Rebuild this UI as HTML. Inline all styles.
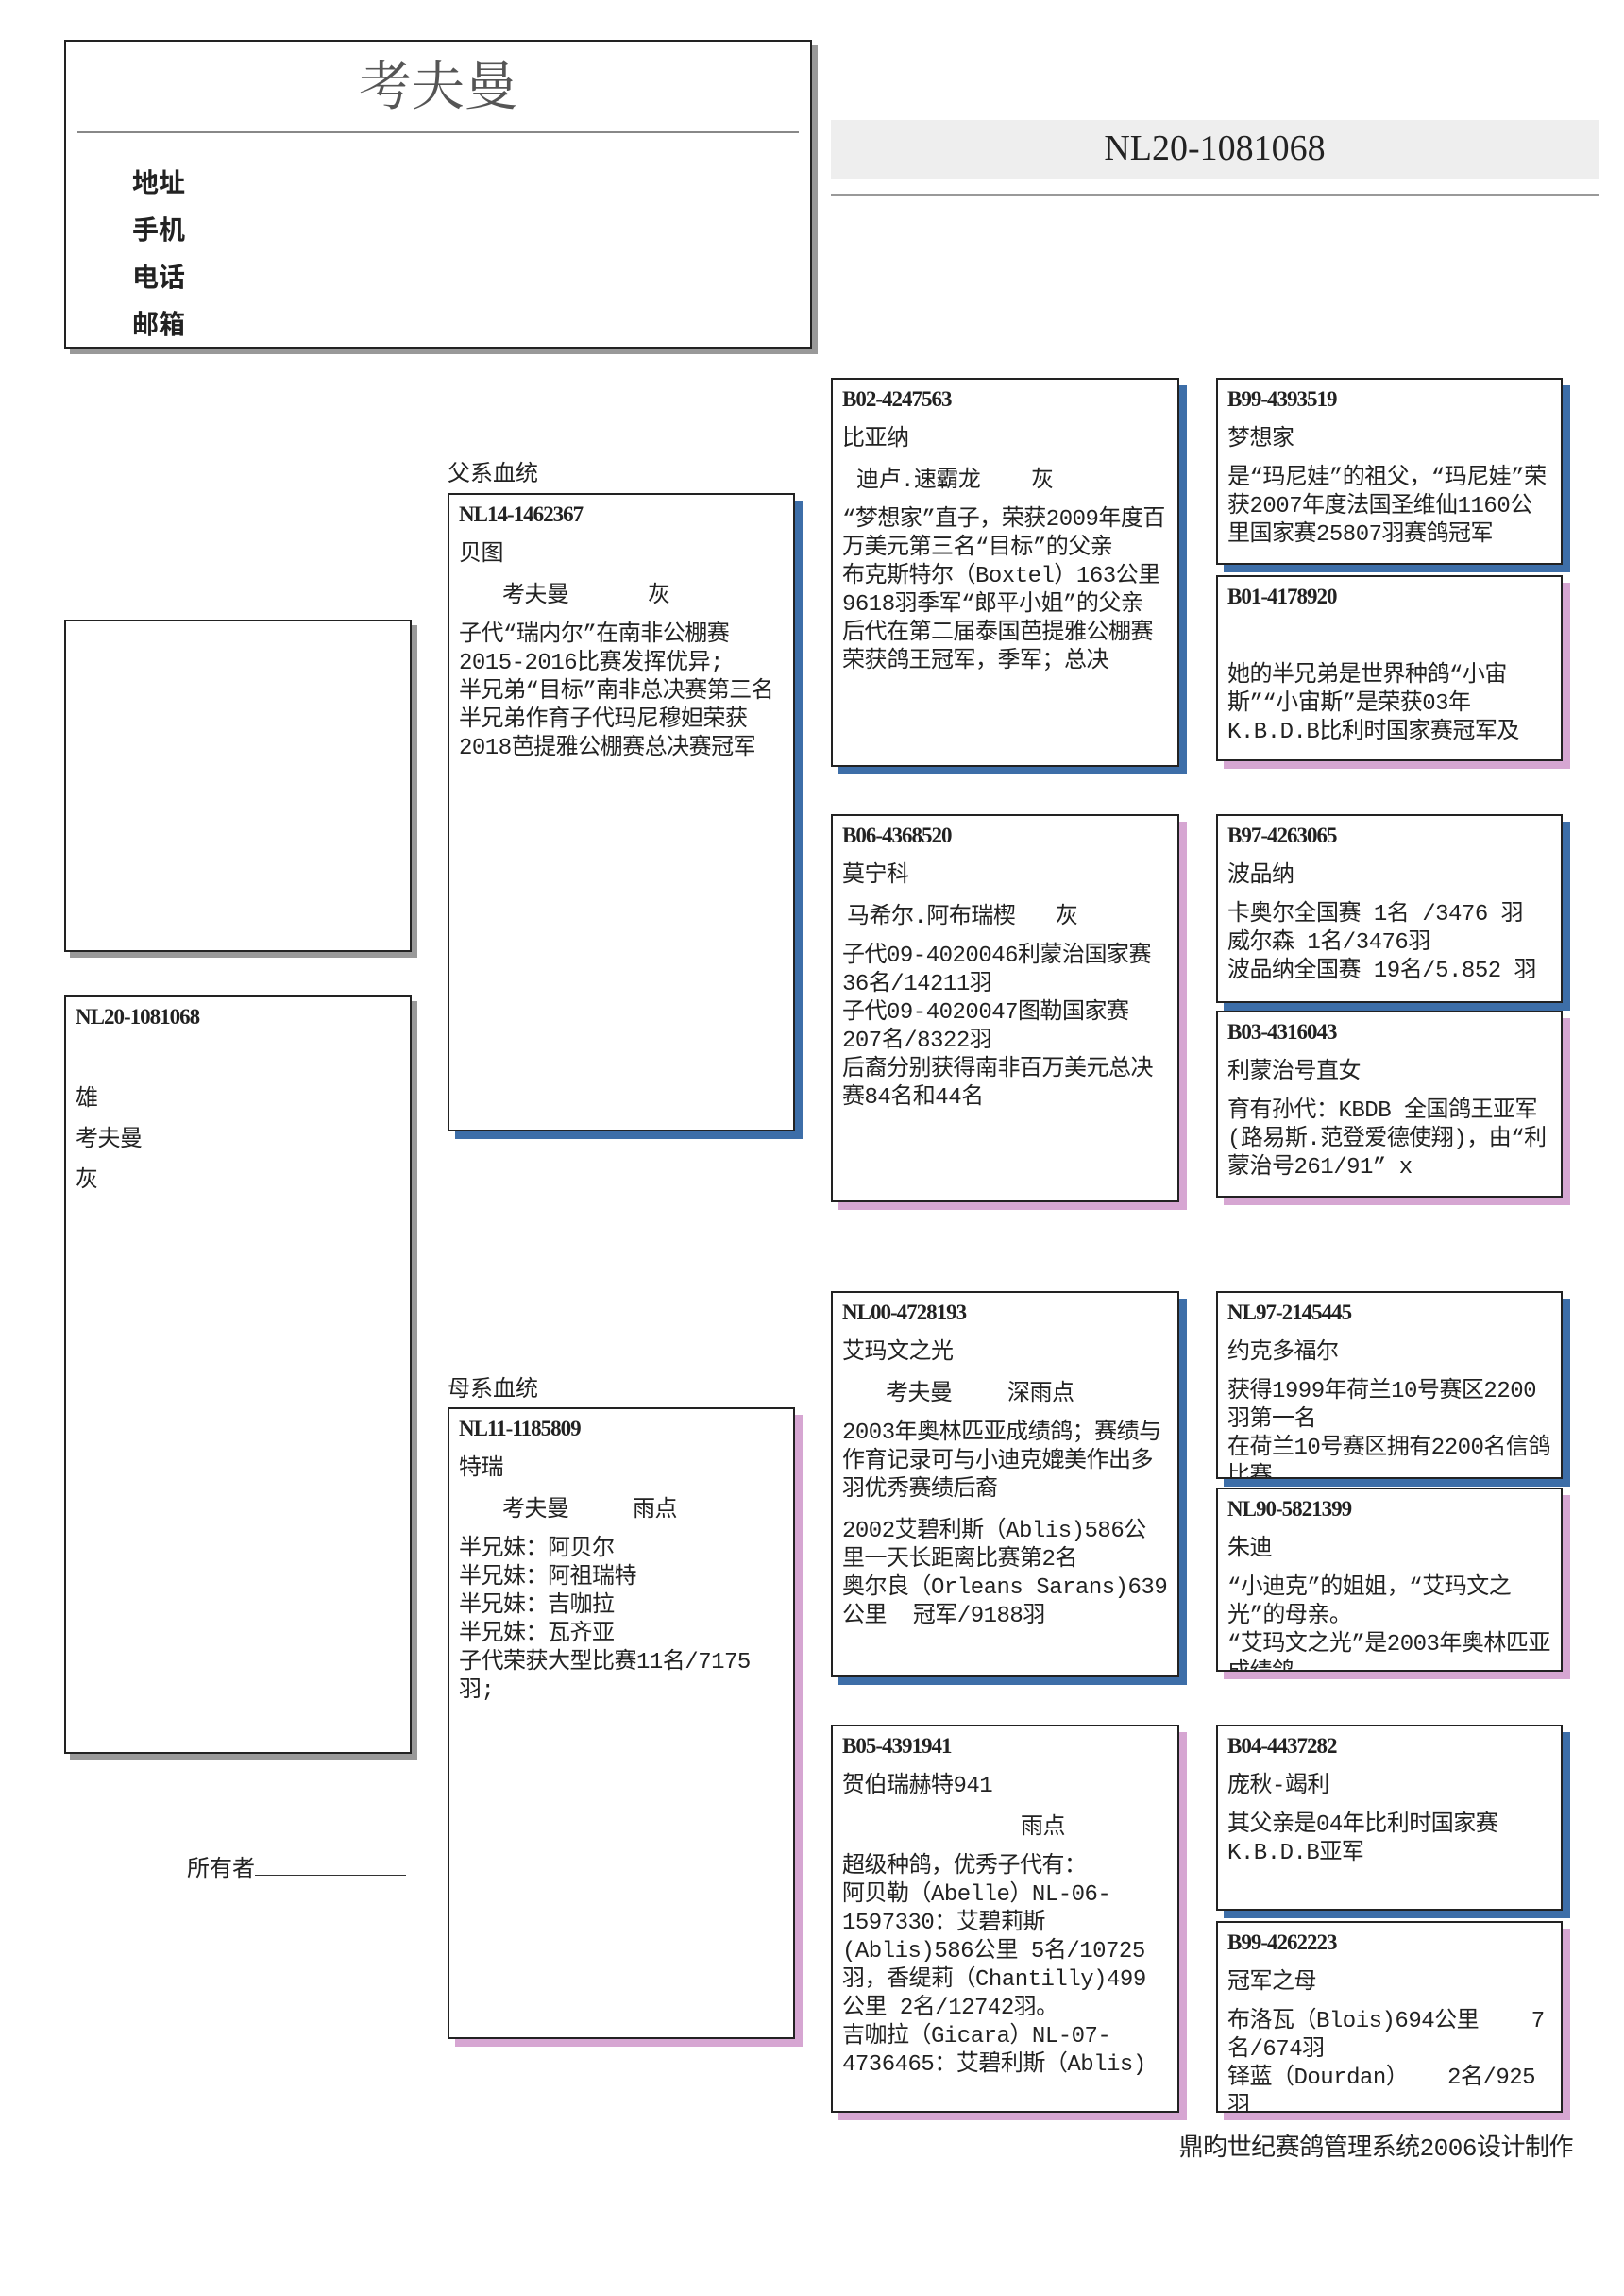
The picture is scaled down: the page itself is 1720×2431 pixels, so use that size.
<!DOCTYPE html>
<html><head><meta charset="utf-8"><style>
body{margin:0;width:1720px;height:2431px;background:#fff;position:relative;overflow:hidden;font-family:"Liberation Mono","Noto Sans CJK SC",monospace;color:#222}
.a{position:absolute}
.b{position:absolute;border:2px solid #222;background:#fff;box-sizing:border-box;padding:6px 10px;overflow:hidden;font-size:24px;line-height:30px;letter-spacing:-0.5px}
.bl{box-shadow:8px 8px 0 #3d6ea8}
.pk{box-shadow:8px 8px 0 #d6a6d2}
.gr{box-shadow:6px 6px 0 #999}
.id{font-family:"Liberation Serif","Noto Serif CJK SC",serif;font-weight:bold;font-size:23px;height:40px;line-height:30px;letter-spacing:-1px}
.nm{height:44px;line-height:36px}
.s2{height:44px;line-height:36px;position:relative}
.s2 span{position:absolute;top:0;white-space:nowrap}
</style></head><body>
<div class="b gr" style="left:68px;top:42px;width:792px;height:327px;padding:0"></div>
<div class="a" style="left:68px;top:48px;width:792px;text-align:center;font-size:56px;color:#555;font-family:'Noto Serif CJK SC',serif">考夫曼</div>
<div class="a" style="left:82px;top:139px;width:764px;height:2px;background:#888"></div>
<div class="a" style="left:140px;top:167px;font-size:28px;font-weight:bold;line-height:50px;font-family:'Noto Sans CJK SC',sans-serif">地址<br>手机<br>电话<br>邮箱</div>
<div class="a" style="left:880px;top:127px;width:813px;height:62px;background:#eee"></div>
<div class="a" style="left:880px;top:135px;width:813px;text-align:center;font-size:38px;font-family:'Liberation Serif',serif">NL20-1081068</div>
<div class="a" style="left:880px;top:205px;width:813px;height:2px;background:#999"></div>

<div class="b gr" style="left:68px;top:656px;width:368px;height:352px"></div>
<div class="b gr" style="left:68px;top:1054px;width:368px;height:803px"><div class="id">NL20-1081068</div><div style="height:48px"></div>雄<br><div style="height:13px"></div>考夫曼<br><div style="height:13px"></div>灰</div>
<div class="a" style="left:198px;top:1958px;font-size:24px">所有者<span style="display:inline-block;width:160px;border-bottom:1px solid #333"></span></div>

<div class="a" style="left:474px;top:481px;font-size:24px">父系血统</div>
<div class="b bl" style="left:474px;top:522px;width:368px;height:676px"><div class="id">NL14-1462367</div><div class="nm">贝图</div><div class="s2"><span style="left:46px">考夫曼</span><span style="left:200px">灰</span></div>子代“瑞内尔”在南非公棚赛2015-2016比赛发挥优异;<br>半兄弟“目标”南非总决赛第三名<br>半兄弟作育子代玛尼穆妲荣获2018芭提雅公棚赛总决赛冠军</div>
<div class="a" style="left:474px;top:1450px;font-size:24px">母系血统</div>
<div class="b pk" style="left:474px;top:1490px;width:368px;height:669px"><div class="id">NL11-1185809</div><div class="nm">特瑞</div><div class="s2"><span style="left:46px">考夫曼</span><span style="left:184px">雨点</span></div>半兄妹：阿贝尔<br>半兄妹：阿祖瑞特<br>半兄妹：吉咖拉<br>半兄妹：瓦齐亚<br>子代荣获大型比赛11名/7175羽;</div>

<div class="b bl" style="left:880px;top:400px;width:369px;height:412px"><div class="id">B02-4247563</div><div class="nm">比亚纳</div><div class="s2"><span style="left:15px">迪卢.速霸龙</span><span style="left:200px">灰</span></div>“梦想家”直子，荣获2009年度百万美元第三名“目标”的父亲<br>布克斯特尔（Boxtel）163公里9618羽季军“郎平小姐”的父亲<br>后代在第二届泰国芭提雅公棚赛荣获鸽王冠军，季军；总决</div>
<div class="b pk" style="left:880px;top:862px;width:369px;height:411px"><div class="id">B06-4368520</div><div class="nm">莫宁科</div><div class="s2"><span style="left:5px">马希尔.阿布瑞楔</span><span style="left:226px">灰</span></div>子代09-4020046利蒙治国家赛36名/14211羽<br>子代09-4020047图勒国家赛207名/8322羽<br>后裔分别获得南非百万美元总决赛84名和44名</div>
<div class="b bl" style="left:880px;top:1367px;width:369px;height:409px"><div class="id">NL00-4728193</div><div class="nm">艾玛文之光</div><div class="s2"><span style="left:46px">考夫曼</span><span style="left:175px">深雨点</span></div>2003年奥林匹亚成绩鸽；赛绩与作育记录可与小迪克媲美作出多羽优秀赛绩后裔<br><div style="height:14px"></div>2002艾碧利斯（Ablis)586公里一天长距离比赛第2名<br>奥尔良（Orleans Sarans)639公里&nbsp;&nbsp;冠军/9188羽</div>
<div class="b pk" style="left:880px;top:1826px;width:369px;height:411px"><div class="id">B05-4391941</div><div class="nm">贺伯瑞赫特941</div><div class="s2"><span style="left:189px">雨点</span></div>超级种鸽，优秀子代有：<br>阿贝勒（Abelle）NL-06-1597330：艾碧莉斯(Ablis)586公里 5名/10725羽，香缇莉（Chantilly)499公里 2名/12742羽。<br>吉咖拉（Gicara）NL-07-4736465：艾碧利斯（Ablis)</div>

<div class="b bl" style="left:1288px;top:400px;width:367px;height:198px"><div class="id">B99-4393519</div><div class="nm">梦想家</div>是“玛尼娃”的祖父，“玛尼娃”荣获2007年度法国圣维仙1160公里国家赛25807羽赛鸽冠军</div>
<div class="b pk" style="left:1288px;top:609px;width:367px;height:197px"><div class="id">B01-4178920</div><div style="height:44px"></div>她的半兄弟是世界种鸽“小宙斯”“小宙斯”是荣获03年K.B.D.B比利时国家赛冠军及</div>
<div class="b bl" style="left:1288px;top:862px;width:367px;height:200px"><div class="id">B97-4263065</div><div class="nm">波品纳</div>卡奥尔全国赛 1名 /3476 羽<br>威尔森 1名/3476羽<br>波品纳全国赛 19名/5.852 羽</div>
<div class="b pk" style="left:1288px;top:1070px;width:367px;height:198px"><div class="id">B03-4316043</div><div class="nm">利蒙治号直女</div>育有孙代：KBDB 全国鸽王亚军(路易斯.范登爱德使翔)，由“利蒙治号261/91” x</div>
<div class="b bl" style="left:1288px;top:1367px;width:367px;height:199px"><div class="id">NL97-2145445</div><div class="nm">约克多福尔</div>获得1999年荷兰10号赛区2200羽第一名<br>在荷兰10号赛区拥有2200名信鸽比赛</div>
<div class="b pk" style="left:1288px;top:1575px;width:367px;height:195px"><div class="id">NL90-5821399</div><div class="nm">朱迪</div>“小迪克”的姐姐，“艾玛文之光”的母亲。<br>“艾玛文之光”是2003年奥林匹亚成绩鸽</div>
<div class="b bl" style="left:1288px;top:1826px;width:367px;height:197px"><div class="id">B04-4437282</div><div class="nm">庞秋-竭利</div>其父亲是04年比利时国家赛K.B.D.B亚军</div>
<div class="b pk" style="left:1288px;top:2034px;width:367px;height:203px"><div class="id">B99-4262223</div><div class="nm">冠军之母</div>布洛瓦（Blois)694公里&nbsp;&nbsp;&nbsp;&nbsp;7名/674羽<br>铎蓝（Dourdan）&nbsp;&nbsp;&nbsp;2名/925羽</div>
<div class="a" style="left:1150px;top:2253px;width:516px;text-align:right;font-size:26px;letter-spacing:-0.5px">鼎昀世纪赛鸽管理系统2006设计制作</div>
</body></html>
